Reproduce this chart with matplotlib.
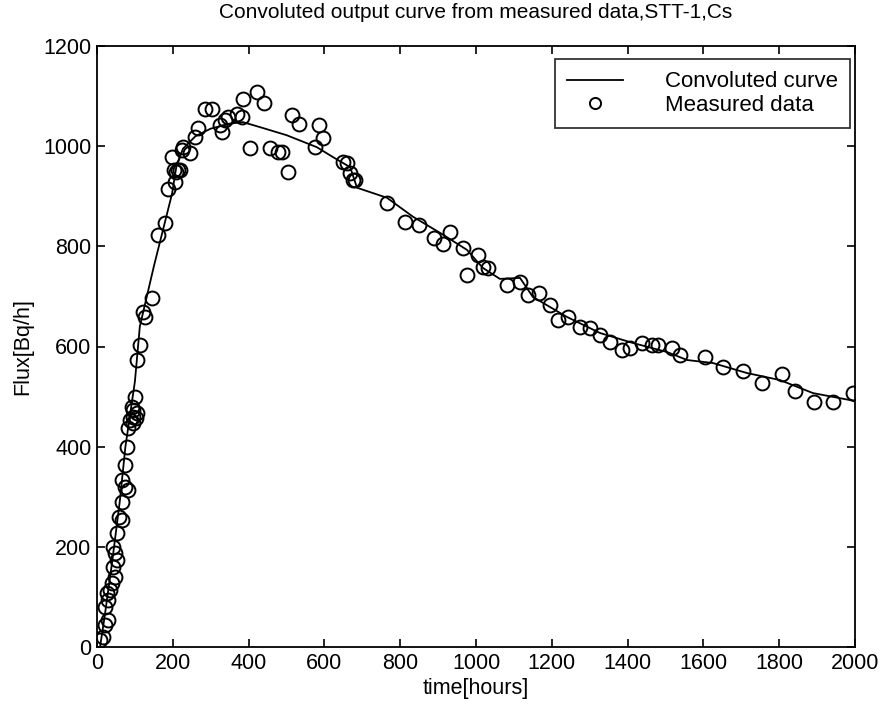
import matplotlib
matplotlib.use('Agg')
import matplotlib.pyplot as plt
import numpy as np

plt.rcParams['font.family'] = ['Liberation Sans', 'DejaVu Sans']

# convoluted curve
curve_t = [8, 20, 40, 60, 75, 100, 113, 150, 198, 210, 227, 260, 300, 350, 385,
           430, 500, 580, 623, 668, 686, 765, 834, 905, 976, 1018, 1063, 1116,
           1150, 1240, 1327, 1414, 1504, 1557, 1625, 1715, 1802, 1889, 1987, 2000]
curve_f = [0, 60, 170, 290, 400, 530, 640, 760, 905, 962, 995, 1020, 1035, 1045, 1048,
           1038, 1022, 998, 978, 958, 917, 897, 859, 827, 793, 757, 735, 737,
           699, 659, 627, 607, 589, 573, 567, 547, 533, 507, 493, 490]

# measured data points
meas_t = [8, 16, 21, 29, 21, 29, 26, 34, 40, 47, 42, 53, 47, 42, 53, 58, 66, 66, 74,
          82, 66, 74, 79, 82, 87, 95, 95, 103, 92, 95, 106, 100, 106, 113, 121, 127,
          145, 161, 179, 187, 198, 203, 206, 208, 214, 219, 224, 227, 245, 259, 267,
          285, 303, 325, 330, 338, 346, 369, 383, 385, 404, 422, 441, 457, 478, 488,
          504, 514, 533, 575, 586, 596, 649, 660, 668, 676, 681, 765, 813, 850, 889,
          913, 931, 966, 976, 1005, 1018, 1032, 1082, 1116, 1137, 1166, 1195, 1216,
          1243, 1274, 1301, 1327, 1354, 1385, 1406, 1438, 1464, 1480, 1517, 1538,
          1604, 1652, 1704, 1755, 1807, 1842, 1892, 1942, 1995]
meas_f = [14, 20, 44, 54, 80, 94, 108, 114, 128, 140, 160, 174, 188, 200, 228, 260,
          254, 290, 319, 313, 333, 363, 399, 437, 453, 459, 473, 457, 479, 447, 467,
          499, 573, 603, 669, 659, 697, 823, 847, 914, 978, 952, 928, 948, 952, 952,
          992, 998, 986, 1018, 1036, 1074, 1074, 1042, 1028, 1052, 1058, 1064, 1058,
          1094, 996, 1108, 1086, 996, 988, 988, 948, 1062, 1044, 998, 1042, 1016, 968,
          966, 946, 932, 932, 886, 849, 843, 817, 805, 829, 797, 743, 783, 759, 757,
          723, 729, 703, 707, 683, 653, 659, 639, 637, 623, 609, 593, 597, 607, 603,
          603, 597, 583, 579, 559, 551, 527, 545, 511, 489, 489, 507]

fig = plt.figure(figsize=(8.85, 7.12), dpi=100)
ax = fig.add_axes([97 / 885, 1 - 647 / 712, 758 / 885, 601 / 712])

ax.plot(curve_t, curve_f, '-', color='black', lw=1.3, label='Convoluted curve')
ax.plot(meas_t, meas_f, 'o', mfc='none', mec='black', ms=10, mew=1.4,
        label='Measured data')

ax.set_xlim(0, 2000)
ax.set_ylim(0, 1200)
ax.set_xticks(np.arange(0, 2001, 200))
ax.set_yticks(np.arange(0, 1201, 200))
ax.tick_params(direction='in', top=True, right=True, length=6, width=1.2,
               labelsize=15.5, pad=4)
for s in ax.spines.values():
    s.set_linewidth(1.3)

ax.set_xlabel('time[hours]', fontsize=15.5, labelpad=3)
ax.set_ylabel('Flux[Bq/h]', fontsize=15.5, labelpad=7)
ax.set_title('Convoluted output curve from measured data,STT-1,Cs',
             fontsize=15, pad=20)

leg = ax.legend(loc='upper right', bbox_to_anchor=(0.9934, 0.978),
                fontsize=16, frameon=True, fancybox=False, edgecolor='black',
                handlelength=2.5, handletextpad=1.9, borderpad=0.55,
                borderaxespad=0, labelspacing=0.1)
leg.get_frame().set_linewidth(1.3)
for h in leg.legend_handles:
    if h.get_marker() == 'o':
        h.set_markersize(8)

fig.savefig('out.png', dpi=100)
